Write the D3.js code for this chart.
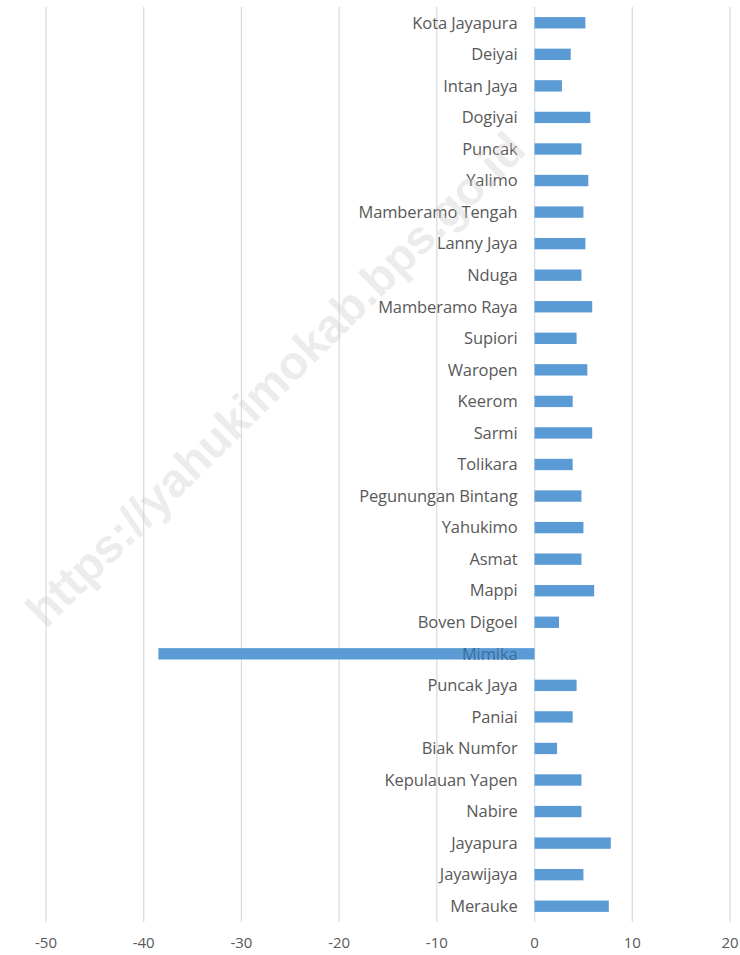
<!DOCTYPE html>
<html>
<head>
<meta charset="utf-8">
<script src="https://cdn.jsdelivr.net/npm/d3@7"></script>
<style>
  html, body { margin: 0; padding: 0; background: #ffffff; }
  svg { display: block; }
</style>
</head>
<body>
<svg id="chart" width="740" height="955"></svg>
<script>
// ---- Data ----
const categories = [
  "Kota Jayapura", "Deiyai", "Intan Jaya", "Dogiyai", "Puncak", "Yalimo",
  "Mamberamo Tengah", "Lanny Jaya", "Nduga", "Mamberamo Raya", "Supiori",
  "Waropen", "Keerom", "Sarmi", "Tolikara", "Pegunungan Bintang", "Yahukimo",
  "Asmat", "Mappi", "Boven Digoel", "Mimika", "Puncak Jaya", "Paniai",
  "Biak Numfor", "Kepulauan Yapen", "Nabire", "Jayapura", "Jayawijaya", "Merauke"
];
const values = [
  5.2, 3.7, 2.8, 5.7, 4.8, 5.5,
  5.0, 5.2, 4.8, 5.9, 4.3,
  5.4, 3.9, 5.9, 3.9, 4.8, 5.0,
  4.8, 6.1, 2.5, -38.5, 4.3, 3.9,
  2.3, 4.8, 4.8, 7.8, 5.0, 7.6
];
const xTicks = [-50, -40, -30, -20, -10, 0, 10, 20];
const watermark = "https://yahukimokab.bps.go.id";

// ---- Layout ----
const svg = d3.select("#chart");
const plot = { left: 46, right: 730, top: 7, bottom: 922 };

const x = d3.scaleLinear().domain([-50, 20]).range([plot.left, plot.right]);
const y = d3.scaleBand().domain(categories).range([plot.top, plot.bottom]).paddingInner(0.64).paddingOuter(0.32);

const textColor = "#595959";
const font = "'Open Sans', 'Noto Sans', sans-serif";

// gridlines
svg.append("g")
  .selectAll("line")
  .data(xTicks)
  .join("line")
  .attr("x1", d => x(d)).attr("x2", d => x(d))
  .attr("y1", plot.top).attr("y2", plot.bottom)
  .attr("stroke", d => d === 0 ? "#d3dde6" : "#d9d9d9")
  .attr("stroke-width", 1.2);

// x tick labels
svg.append("g")
  .selectAll("text")
  .data(xTicks)
  .join("text")
  .attr("x", d => x(d))
  .attr("y", 948)
  .attr("text-anchor", "middle")
  .attr("font-family", font)
  .attr("font-size", 15)
  .attr("fill", textColor)
  .text(d => d);

// bars
svg.append("g")
  .selectAll("rect")
  .data(values)
  .join("rect")
  .attr("x", d => x(Math.min(0, d)))
  .attr("width", d => Math.abs(x(d) - x(0)))
  .attr("y", (d, i) => y(categories[i]))
  .attr("height", y.bandwidth())
  .attr("fill", "#5b9bd5");

// category labels
svg.append("g")
  .selectAll("text")
  .data(categories)
  .join("text")
  .attr("x", x(0) - 17)
  .attr("y", d => y(d) + y.bandwidth() / 2)
  .attr("dy", "0.35em")
  .attr("text-anchor", "end")
  .attr("font-family", font)
  .attr("font-size", 16.5)
  .attr("letter-spacing", -0.1)
  .attr("fill", (d, i) => values[i] < 0 ? "#3d6f9c" : textColor)
  .text(d => d);

// watermark
svg.append("text")
  .attr("font-family", "'Liberation Sans', Arial, sans-serif")
  .attr("font-weight", "bold")
  .attr("font-size", 47)
  .attr("fill", "#c8c8c8")
  .attr("fill-opacity", 0.35)
  .attr("text-anchor", "end")
  .attr("transform", "translate(528,152) rotate(-44.7)")
  .text(watermark);
</script>
</body>
</html>
